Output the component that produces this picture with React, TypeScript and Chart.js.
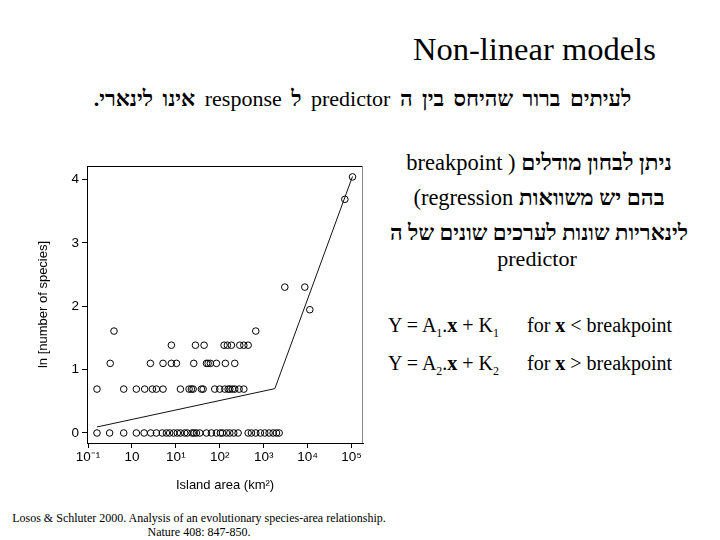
import React, { useEffect, useRef } from "react";
import { Chart, registerables } from "chart.js";

Chart.register(...registerables);

// Island areas (km²) grouped by number of species
const areasN1 = [0.16, 0.31, 0.65, 1.26, 1.89, 2.67, 3.6, 4.9, 6.1, 7.2, 8.9, 10.8, 12.7, 15.9, 18.3, 23.4, 26, 29.4, 35, 49.7, 64.4, 83.8, 103, 115, 142, 169, 208, 261, 442, 526, 659, 843, 1057, 1327, 1637, 1950, 2244];
const areasN2 = [0.16, 0.65, 1.26, 1.95, 2.92, 3.6, 5.1, 12.7, 20, 22.6, 24.7, 38.2, 41.7, 76.7, 99.8, 130, 155, 169, 194, 219, 275, 352];
const areasN3 = [0.32, 2.63, 5.1, 7.9, 10.3, 25.5, 49.7, 54.2, 61.2, 83.8, 134, 219];
const areasN4 = [7.9, 27.9, 43.9, 125, 149, 184, 285, 352, 442];
const areasN5 = [0.39, 659];
const areasN7 = [11200];
const areasN10 = [3020, 8610];
const areasN40 = [70300];
const areasN57 = [105000];

const areaGroups = [areasN1, areasN2, areasN3, areasN4, areasN5, areasN7, areasN10, areasN40, areasN57];
const lnSpecies = [0, 0.693, 1.099, 1.386, 1.609, 1.946, 2.303, 3.689, 4.043];

// Breakpoint regression fit
const fitAreas = [0.16, 1790, 105000];
const fitLn = [0.095, 0.7, 4.05];

const xTickValues = [0.1, 1, 10, 100, 1000, 10000, 100000];
const xTickLabels = ["10\u207B\u00B9", "10", "10\u00B9", "10\u00B2", "10\u00B3", "10\u2074", "10\u2075"];
const yTickValues = [0, 1, 2, 3, 4];

const SANS = "'Liberation Sans', Arial, sans-serif";
const SERIF = "'Liberation Serif', 'Times New Roman', serif";
const HEB = "'Liberation Serif', 'DejaVu Sans', serif";

const boxPlugin = {
  id: "box",
  afterDraw(chart: any) {
    const { ctx, chartArea } = chart;
    ctx.save();
    ctx.lineWidth = 1;
    ctx.strokeStyle = "#000";
    ctx.beginPath();
    ctx.moveTo(chartArea.left, chartArea.top + 0.5);
    ctx.lineTo(chartArea.right, chartArea.top + 0.5);
    ctx.stroke();
    ctx.strokeStyle = "#888";
    ctx.beginPath();
    ctx.moveTo(chartArea.right - 0.5, chartArea.top);
    ctx.lineTo(chartArea.right - 0.5, chartArea.bottom);
    ctx.stroke();
    ctx.restore();
  },
};

function ScatterChart() {
  const ref = useRef<HTMLCanvasElement | null>(null);
  useEffect(() => {
    if (!ref.current) return;
    const points = areaGroups.flatMap((areas, i) => areas.map((a) => ({ x: a, y: lnSpecies[i] })));
    const fit = fitAreas.map((a, i) => ({ x: a, y: fitLn[i] }));
    const chart = new Chart(ref.current, {
      type: "scatter",
      data: {
        datasets: [
          {
            data: fit,
            showLine: true,
            borderColor: "#111",
            borderWidth: 1,
            pointRadius: 0,
            fill: false,
          },
          {
            data: points,
            pointStyle: "circle",
            pointRadius: 3.3,
            pointBorderWidth: 1,
            borderColor: "#000",
            backgroundColor: "rgba(0,0,0,0)",
            pointBackgroundColor: "rgba(0,0,0,0)",
            pointBorderColor: "#000",
          },
        ],
      },
      options: {
        animation: false,
        responsive: false,
        maintainAspectRatio: false,
        layout: { padding: { top: 16, right: 17, left: 0, bottom: 0 } },
        plugins: { legend: { display: false }, tooltip: { enabled: false } },
        scales: {
          x: {
            type: "logarithmic",
            min: 0.0948,
            max: 182000,
            afterBuildTicks: (scale: any) => {
              scale.ticks = xTickValues.map((v) => ({ value: v }));
            },
            afterFit: (scale: any) => {
              scale.height = 57;
            },
            ticks: {
              autoSkip: false,
              maxRotation: 0,
              padding: 1,
              color: "#000",
              font: { family: SANS, size: 13.5 },
              callback: (v: any) => {
                const i = xTickValues.indexOf(Number(v));
                return i >= 0 ? xTickLabels[i] : "";
              },
            },
            grid: { display: true, drawOnChartArea: false, drawTicks: true, tickLength: 5, color: "#000", lineWidth: 1 },
            border: { display: true, color: "#000", width: 1 },
            title: {
              display: true,
              text: "Island area (km\u00B2)",
              color: "#000",
              font: { family: SANS, size: 13 },
              padding: { top: 0, bottom: 7 },
            },
          },
          y: {
            type: "linear",
            min: -0.158,
            max: 4.215,
            afterBuildTicks: (scale: any) => {
              scale.ticks = yTickValues.map((v) => ({ value: v }));
            },
            afterFit: (scale: any) => {
              scale.width = 87;
            },
            ticks: {
              padding: 3,
              color: "#000",
              font: { family: SANS, size: 13.5 },
              callback: (v: any) => String(v),
            },
            grid: { display: true, drawOnChartArea: false, drawTicks: true, tickLength: 5, color: "#000", lineWidth: 1 },
            border: { display: true, color: "#000", width: 1 },
            title: {
              display: true,
              text: "ln [number of species]",
              color: "#000",
              font: { family: SANS, size: 13 },
              padding: { top: 36, bottom: 0 },
            },
          },
        },
      },
      plugins: [boxPlugin],
    } as any);
    return () => chart.destroy();
  }, []);
  return <canvas ref={ref} width={380} height={350} style={{ position: "absolute", left: 0, top: 150, width: 380, height: 350 }} />;
}

const abs = (extra: React.CSSProperties): React.CSSProperties => ({
  position: "absolute",
  whiteSpace: "nowrap",
  fontFamily: SERIF,
  color: "#000",
  margin: 0,
  ...extra,
});

const He = ({ children }: { children: React.ReactNode }) => (
  <span style={{ fontFamily: HEB, fontWeight: "bold" }}>{children}</span>
);
const La = ({ children }: { children: React.ReactNode }) => (
  <span style={{ fontFamily: SERIF, fontWeight: "normal" }}>{children}</span>
);

export default function App() {
  const sub = { fontSize: 12 };
  return (
    <div style={{ position: "fixed", left: 0, top: 0, width: 720, height: 540, background: "#fff", overflow: "hidden" }}>
      <div style={abs({ left: 413, top: 33, fontSize: 32.5, lineHeight: "33px" })}>Non-linear models</div>
      <div dir="rtl" style={abs({ left: 0, width: 725, top: 88, fontSize: 22, lineHeight: "22px", textAlign: "center", wordSpacing: 4 })}>
        <He>לעיתים ברור שהיחס בין ה</He> <La>predictor</La> <He>ל</He> <La>response</La> <He>אינו לינארי.</He>
      </div>

      <div dir="ltr" style={abs({ left: 339, width: 400, top: 152, fontSize: 22.5, lineHeight: "22px", textAlign: "center" })}>
        <La>breakpoint ) </La>
        <He>ניתן לבחון מודלים</He>
      </div>
      <div dir="ltr" style={abs({ left: 339, width: 400, top: 187, fontSize: 22.5, lineHeight: "22px", textAlign: "center" })}>
        <La>(regression </La>
        <He>בהם יש משוואות</He>
      </div>
      <div dir="rtl" style={abs({ left: 339, width: 400, top: 222, fontSize: 22, lineHeight: "22px", textAlign: "center" })}>
        <He>לינאריות שונות לערכים שונים של ה</He>
      </div>
      <div style={abs({ left: 337, width: 400, top: 248, fontSize: 22, lineHeight: "22px", textAlign: "center" })}>predictor</div>

      <div style={abs({ left: 388, top: 315, fontSize: 20, lineHeight: "20px" })}>
        Y = A<sub style={sub}>1</sub>.<b>x</b> + K<sub style={sub}>1</sub>
      </div>
      <div style={abs({ left: 527, top: 315, fontSize: 20, lineHeight: "20px" })}>
        for <b>x</b> &lt; breakpoint
      </div>
      <div style={abs({ left: 388, top: 353, fontSize: 20, lineHeight: "20px" })}>
        Y = A<sub style={sub}>2</sub>.<b>x</b> + K<sub style={sub}>2</sub>
      </div>
      <div style={abs({ left: 527, top: 353, fontSize: 20, lineHeight: "20px" })}>
        for <b>x</b> &gt; breakpoint
      </div>

      <ScatterChart />

      <div style={abs({ left: 0, width: 398, top: 511, fontSize: 12, lineHeight: "14px", textAlign: "center" })}>
        Losos &amp; Schluter 2000. Analysis of an evolutionary species-area relationship.
        <br />
        Nature 408: 847-850.
      </div>
    </div>
  );
}
